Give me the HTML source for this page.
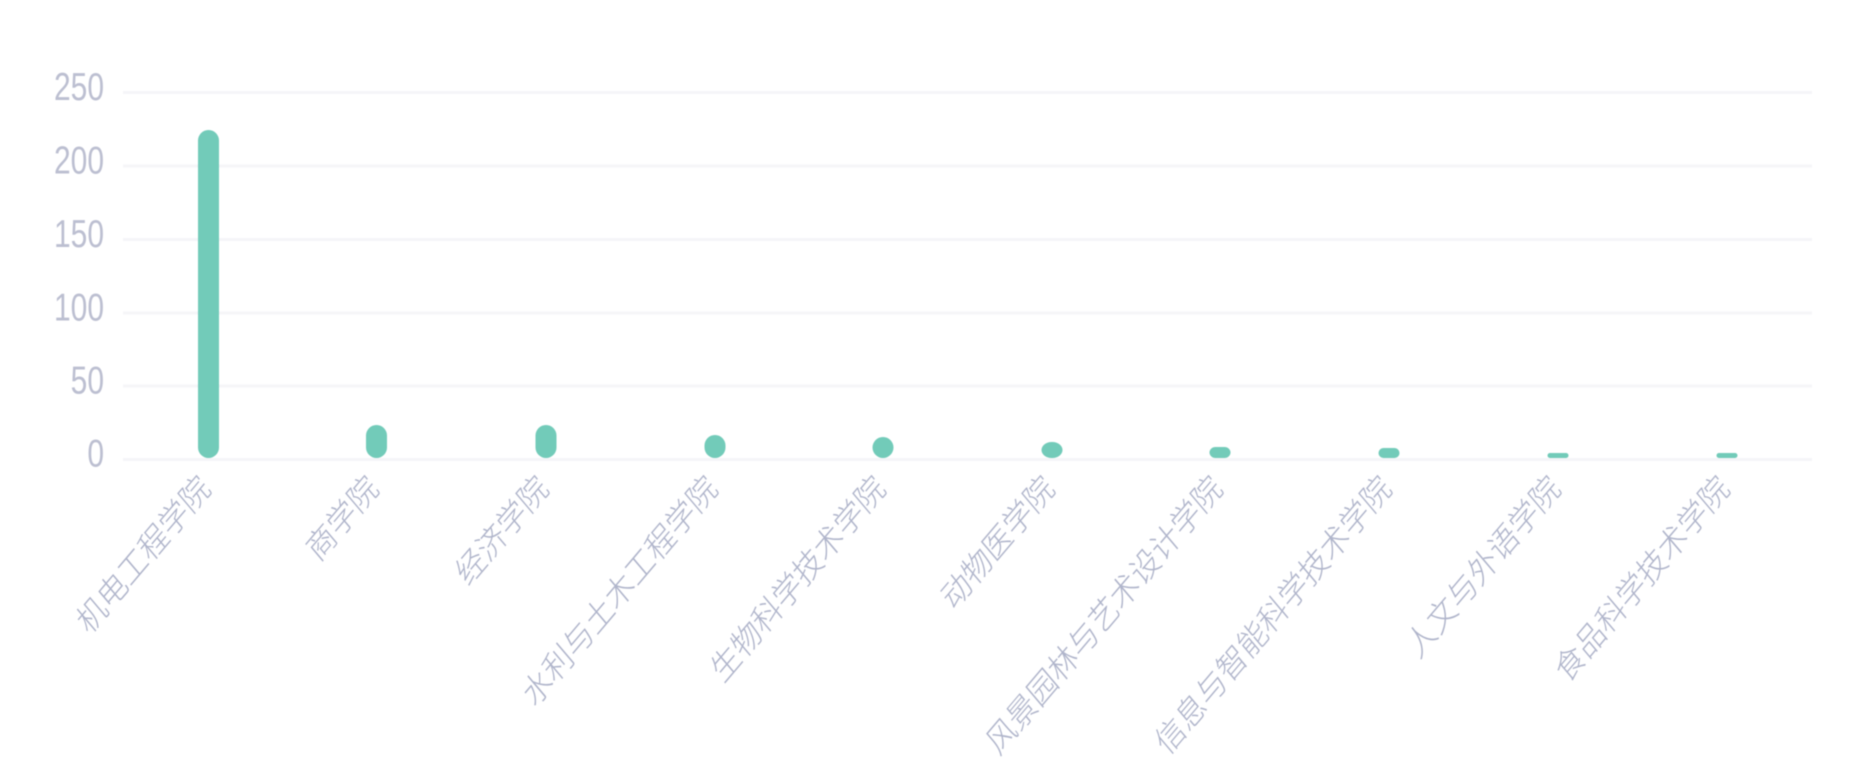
<!DOCTYPE html>
<html>
<head>
<meta charset="utf-8">
<style>
  html, body { margin: 0; padding: 0; background: #ffffff; }
  body { width: 1867px; height: 779px; overflow: hidden; }
  svg { display: block; filter: blur(0.6px); }
  .yl { font-family: "Liberation Sans", "Noto Sans CJK SC", sans-serif; font-size: 30px; fill: #bcbfd1; }
  .xl { font-family: "Liberation Sans", "Noto Sans CJK SC", sans-serif; font-size: 29px; font-weight: 300; fill: #b0b5cb; }
</style>
</head>
<body>
<svg width="1867" height="779" viewBox="0 0 1867 779" xmlns="http://www.w3.org/2000/svg">
  <rect width="1867" height="779" fill="#ffffff"/>
  <!-- grid lines -->
  <g stroke="#f5f5f8" stroke-width="3">
    <line x1="123" y1="92.5" x2="1812" y2="92.5"/>
    <line x1="123" y1="166" x2="1812" y2="166"/>
    <line x1="123" y1="239.5" x2="1812" y2="239.5"/>
    <line x1="123" y1="313" x2="1812" y2="313"/>
    <line x1="123" y1="386" x2="1812" y2="386"/>
    <line x1="123" y1="459.5" x2="1812" y2="459.5"/>
  </g>
  <!-- y axis labels -->
  <g class="yl" text-anchor="end">
    <text transform="translate(104,87.5) scale(1,1.3)" dominant-baseline="central">250</text>
    <text transform="translate(104,161) scale(1,1.3)" dominant-baseline="central">200</text>
    <text transform="translate(104,234.5) scale(1,1.3)" dominant-baseline="central">150</text>
    <text transform="translate(104,308) scale(1,1.3)" dominant-baseline="central">100</text>
    <text transform="translate(104,381) scale(1,1.3)" dominant-baseline="central">50</text>
    <text transform="translate(104,454) scale(1,1.3)" dominant-baseline="central">0</text>
  </g>
  <!-- bars -->
  <g fill="#72cbb9">
    <rect x="198" y="130" width="21" height="328" rx="10.5" ry="10.5"/>
    <rect x="366" y="425" width="21" height="33" rx="10.5" ry="10.5"/>
    <rect x="535.5" y="425" width="21" height="33" rx="10.5" ry="10.5"/>
    <rect x="704.5" y="435" width="21" height="23" rx="10.5" ry="10.5"/>
    <rect x="872.5" y="437" width="21" height="21" rx="10.5" ry="10.5"/>
    <rect x="1041.5" y="442" width="21" height="16" rx="10" ry="8"/>
    <rect x="1209.5" y="447" width="21" height="11" rx="6" ry="5.5"/>
    <rect x="1378.5" y="448" width="21" height="10" rx="5" ry="5"/>
    <rect x="1547.5" y="453" width="21" height="5" rx="2.5" ry="2.5"/>
    <rect x="1716.5" y="453" width="21" height="5" rx="2.5" ry="2.5"/>
  </g>
  <!-- x axis labels -->
  <g class="xl" text-anchor="end">
    <text transform="translate(205,482) scale(1,1.18) rotate(-45)" dominant-baseline="central">机电工程学院</text>
    <text transform="translate(373,482) scale(1,1.18) rotate(-45)" dominant-baseline="central">商学院</text>
    <text transform="translate(543,482) scale(1,1.18) rotate(-45)" dominant-baseline="central">经济学院</text>
    <text transform="translate(712,482) scale(1,1.18) rotate(-45)" dominant-baseline="central">水利与土木工程学院</text>
    <text transform="translate(880,482) scale(1,1.18) rotate(-45)" dominant-baseline="central">生物科学技术学院</text>
    <text transform="translate(1049,482) scale(1,1.18) rotate(-45)" dominant-baseline="central">动物医学院</text>
    <text transform="translate(1217,482) scale(1,1.18) rotate(-45)" dominant-baseline="central">风景园林与艺术设计学院</text>
    <text transform="translate(1386,482) scale(1,1.18) rotate(-45)" dominant-baseline="central">信息与智能科学技术学院</text>
    <text transform="translate(1555,482) scale(1,1.18) rotate(-45)" dominant-baseline="central">人文与外语学院</text>
    <text transform="translate(1724,482) scale(1,1.18) rotate(-45)" dominant-baseline="central">食品科学技术学院</text>
  </g>
</svg>
</body>
</html>
